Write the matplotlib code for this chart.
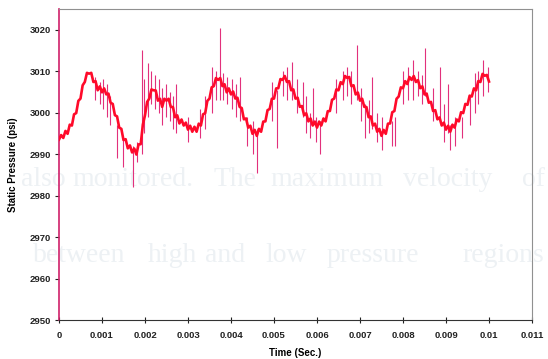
import numpy as np
import matplotlib
matplotlib.use('Agg')
import matplotlib.pyplot as plt

## pressure trace, sampled every 0.05 ms (psi)
time_sec = np.linspace(0, 0.01, 201)
pressure = [
    2993.5, 2994.6, 2993.9, 2995.6, 2994.9, 2997.1, 2996.9, 2999.6, 2999.9, 3002.85,
    3003.4, 3006.6, 3007.4, 3009.6, 3009.4, 3009.6, 3007.4, 3007.6, 3005.4, 3006.35,
    3004.9, 3005.85, 3004.4, 3004.6, 3002.4, 3002.1, 2999.4, 2999.1, 2996.4, 2996.1,
    2993.4, 2993.6, 2991.4, 2992.1, 2990.4, 2991.35, 2989.9, 2992.35, 2992.4, 2997.1,
    2999.4, 3002.6, 3003.4, 3005.6, 3005.4, 3005.35, 3002.9, 3003.35, 3001.4, 3003.35,
    3002.9, 3003.35, 3001.4, 3001.35, 2998.9, 2999.35, 2997.4, 2998.35, 2996.9, 2997.6,
    2995.9, 2996.85, 2995.4, 2996.6, 2995.4, 2997.35, 2996.9, 2999.6, 2999.9, 3002.85,
    3003.4, 3006.1, 3006.4, 3008.35, 3007.9, 3008.35, 3006.4, 3006.85, 3004.9, 3005.85,
    3004.4, 3005.1, 3003.4, 3003.6, 3001.4, 3001.1, 2998.4, 2998.6, 2996.4, 2996.85,
    2994.9, 2995.85, 2994.4, 2996.1, 2995.4, 2997.85, 2997.9, 3000.6, 3000.9, 3003.35,
    3003.4, 3005.85, 3005.9, 3008.1, 3007.9, 3008.85, 3007.4, 3007.6, 3005.4, 3005.6,
    3003.4, 3003.6, 3001.4, 3001.6, 2999.4, 2999.85, 2997.9, 2998.6, 2996.9, 2997.85,
    2996.4, 2997.85, 2996.9, 2998.6, 2997.9, 3000.35, 3000.4, 3003.1, 3003.4, 3005.6,
    3005.4, 3007.35, 3006.9, 3008.85, 3008.4, 3008.6, 3006.4, 3006.6, 3004.4, 3004.85,
    3002.9, 3003.35, 3001.4, 3001.35, 2998.9, 2999.1, 2996.9, 2997.35, 2995.4, 2996.1,
    2994.4, 2995.85, 2994.9, 2997.35, 2997.4, 3000.1, 3000.4, 3003.35, 3003.9, 3006.1,
    3005.9, 3007.6, 3006.9, 3008.6, 3007.9, 3008.85, 3007.4, 3007.85, 3005.9, 3006.35,
    3004.4, 3004.6, 3002.4, 3002.6, 3000.4, 3000.6, 2998.4, 2998.85, 2996.9, 2997.6,
    2995.9, 2996.85, 2995.4, 2997.1, 2996.4, 2998.35, 2997.9, 3000.1, 2999.9, 3002.1,
    3001.9, 3004.1, 3003.9, 3005.85, 3005.4, 3007.6, 3007.4, 3009.35, 3008.9, 3009.1,
    3007.5,
]

## transducer spikes: time, low end, high end
spike_t = [0.00084, 0.00095, 0.00102, 0.00112, 0.00118, 0.00135, 0.00149, 0.00172,
           0.00181, 0.00193, 0.00198, 0.00207, 0.00214, 0.00223, 0.00232, 0.00240,
           0.00249, 0.00258, 0.00265, 0.00272, 0.00300, 0.00328, 0.00340, 0.00356,
           0.00365, 0.00374, 0.00382, 0.00391, 0.00402, 0.00412, 0.00421, 0.00437,
           0.00450, 0.00460, 0.00495, 0.00507, 0.00520, 0.00530, 0.00542, 0.00553,
           0.00567, 0.00575, 0.00584, 0.00591, 0.00598, 0.00607, 0.00645, 0.00660,
           0.00670, 0.00680, 0.00693, 0.00702, 0.00712, 0.00720, 0.00728, 0.00740,
           0.00752, 0.00774, 0.00781, 0.00800, 0.00812, 0.00823, 0.00835, 0.00845,
           0.00851, 0.00870, 0.00886, 0.00895, 0.00905, 0.00909, 0.00920, 0.00937,
           0.00955, 0.00967, 0.00975, 0.00986, 0.00998]
spike_lo = [3003.0, 3002.0, 3001.0, 2999.0, 2997.0, 2989.0, 2987.0, 2982.0,
            2988.0, 2990.0, 2995.0, 2999.0, 3002.0, 3001.0, 3000.0, 2997.0,
            2999.0, 2998.0, 2996.0, 2995.0, 2993.0, 2994.0, 2996.0, 3000.0,
            3003.0, 3003.0, 3003.0, 3002.0, 3001.0, 2999.0, 2998.0, 2992.0,
            2990.0, 2985.5, 2998.0, 2991.5, 3004.0, 3003.0, 3003.0, 3000.0,
            2999.0, 2995.0, 2994.0, 2997.0, 2993.0, 2990.0, 3000.0, 3003.0,
            3004.0, 3002.0, 3003.0, 2998.0, 2994.0, 2995.0, 2996.0, 2993.0,
            2991.0, 2992.0, 2992.0, 3002.0, 3003.0, 3003.0, 3004.0, 3002.0,
            3004.0, 2998.0, 2998.0, 2993.0, 2995.0, 2991.0, 2992.0, 2994.0,
            2997.0, 3000.0, 3002.0, 3004.0, 3005.0]
spike_hi = [3008.5, 3007.5, 3008.0, 3006.8, 3004.0, 2997.0, 2994.0, 2992.0,
            2993.0, 3015.0, 3008.0, 3012.0, 3010.0, 3009.0, 3008.0, 3006.0,
            3007.0, 3005.0, 3004.0, 3007.0, 2999.0, 3001.0, 3004.0, 3011.0,
            3010.0, 3020.5, 3009.5, 3008.7, 3008.0, 3007.0, 3008.5, 2999.0,
            2998.0, 2996.0, 3007.5, 3005.5, 3010.0, 3011.0, 3012.3, 3008.0,
            3007.5, 3004.0, 3000.0, 3006.0, 2999.0, 2998.0, 3008.0, 3010.0,
            3011.0, 3010.0, 3016.4, 3006.0, 3002.0, 3003.0, 3008.5, 3000.0,
            2999.0, 2998.0, 2999.0, 3010.0, 3011.0, 3012.8, 3010.0, 3009.0,
            3015.7, 3006.0, 3011.0, 3002.0, 3007.0, 2997.0, 2999.0, 2999.0,
            3004.0, 3009.6, 3010.0, 3012.8, 3011.0]

x_ticks = [0, 0.001, 0.002, 0.003, 0.004, 0.005, 0.006, 0.007, 0.008, 0.009, 0.01, 0.011]
x_labels = ['0', '0.001', '0.002', '0.003', '0.004', '0.005', '0.006', '0.007',
            '0.008', '0.009', '0.01', '0.011']
y_ticks = [2950, 2960, 2970, 2980, 2990, 3000, 3010, 3020]

## faint page text showing through behind the chart: (word, x px, y px)
page_words = [
    ('also', 21, 180), ('monitored.', 72, 180), ('The', 213, 180),
    ('maximum', 270, 180), ('velocity', 403, 180), ('of', 522, 180),
    ('between', 33, 256), ('high', 148, 256), ('and', 205, 256),
    ('low', 265, 256), ('pressure', 327, 256), ('regions', 462, 256),
]

W, H = 548, 359
fig = plt.figure(figsize=(W / 100, H / 100), dpi=100)
fig.patch.set_facecolor('white')

for word, px, py in page_words:
    fig.text(px / W, 1 - py / H, word, family='Liberation Serif', fontsize=20,
             color='#edf1f4', va='center', ha='left', zorder=-1)

ax = fig.add_axes([59 / W, 1 - 320 / H, (532 - 59) / W, (320 - 9) / H])
ax.patch.set_alpha(0)

ax.vlines(spike_t, spike_lo, spike_hi, color='#e2307c', linewidth=0.8, zorder=2)
ax.plot(time_sec, pressure, color='#ff0a2a', linewidth=1.9, zorder=3)

ax.set_xlim(0, 0.011)
ax.set_ylim(2950, 3025)
ax.set_xticks(x_ticks)
ax.set_xticklabels(x_labels)
ax.set_yticks(y_ticks)

font = dict(family='Liberation Sans', weight='bold')
for lab in ax.get_xticklabels() + ax.get_yticklabels():
    lab.set_fontfamily('Liberation Sans')
    lab.set_fontweight('bold')
    lab.set_fontsize(6.8)
ax.tick_params(axis='x', direction='inout', length=4, width=0.8, pad=6, colors='#222222')
ax.tick_params(axis='y', direction='out', length=3, width=0.8, pad=3, colors='#222222')

ax.spines['top'].set_color('#909090')
ax.spines['right'].set_color('#909090')
ax.spines['bottom'].set_color('#333333')
ax.spines['left'].set_color('#d0206a')
ax.spines['left'].set_linewidth(1.2)

ax.set_xlabel('Time (Sec.)', fontsize=7, labelpad=6, **font)
ax.set_ylabel('Static Pressure (psi)', fontsize=7, labelpad=8, **font)

fig.savefig('out.png', dpi=100)
